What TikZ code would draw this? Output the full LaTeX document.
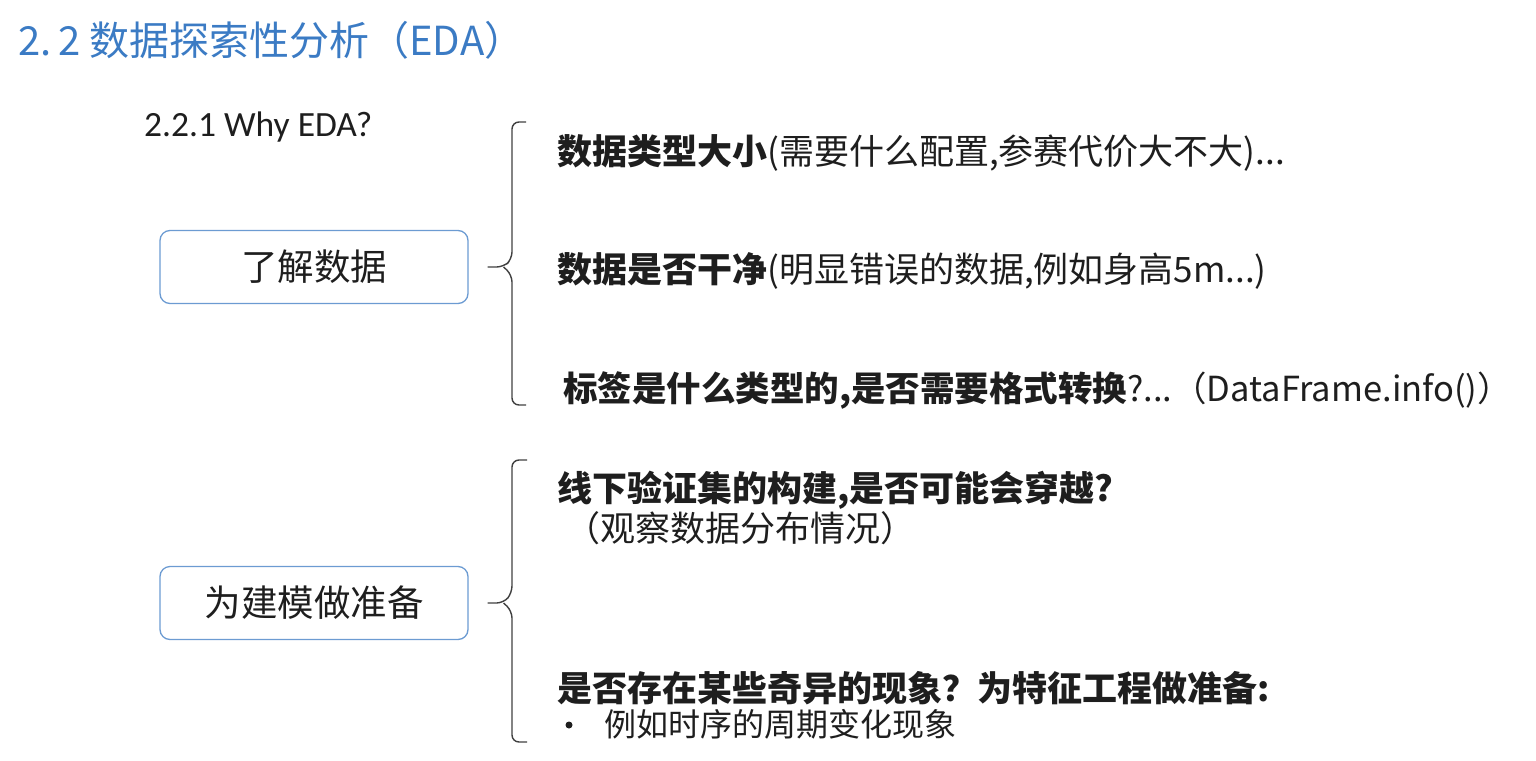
\documentclass[tikz,border=0pt]{standalone}
\usepackage{fontspec}
\setmainfont{Noto Sans CJK SC}
\newfontfamily\latin{Carlito}
\usetikzlibrary{positioning,calc}
\definecolor{cTitle}{HTML}{3B7BC4}
\definecolor{cBox}{HTML}{6C9BD2}
\definecolor{cText}{HTML}{1E1E1E}

\begin{document}
\begin{tikzpicture}[x=1pt,y=-1pt,
   txt/.style={anchor=west,inner sep=0pt,text=cText,font=\fontsize{35}{40}\selectfont},
   blk/.style={draw=cBox,line width=1.3pt,rounded corners=10pt,minimum width=308pt,minimum height=73pt,
     text=cText,font=\fontsize{36.5}{42}\selectfont},
   brace/.style={draw=cText!85,line width=1.4pt,rounded corners=7pt}]
  \useasboundingbox (0,0) rectangle (1536,760);
  \node[anchor=west,inner sep=0pt,text=cTitle,font=\fontsize{40}{46}\selectfont] (title) at (18,40) {2.\,2 数据探索性分析（EDA）};
  \node[anchor=west,inner sep=0pt,text=cText,font=\latin\fontsize{35.5}{40}\selectfont] (sub) at (144,127) {2.2.1 Why EDA?};
  % the two goals
  \node[blk] (know) at (314,267) {了解数据};
  \node[blk] (prep) at (314,603) {为建模做准备};
  % what we look at
  \node[txt] (l1) at (557,153) {\textbf{数据类型大小}(需要什么配置,参赛代价大不大)...};
  \node[txt] (l2) at (557,271) {\textbf{数据是否干净}(明显错误的数据,例如身高5m...)};
  \node[txt,font=\fontsize{34.5}{40}\selectfont] (l3) at (563,390) {\textbf{标签是什么类型的,是否需要格式转换}?...（DataFrame.info()）};
  \node[txt] (l4) at (557,490) {\textbf{线下验证集的构建,是否可能会穿越?}};
  \node[txt] (l5) at (565,528) {（观察数据分布情况）};
  \node[txt] (l6) at (557,688) {\textbf{是否存在某些奇异的现象？为特征工程做准备:}};
  \node[circle,fill=cText,inner sep=0pt,minimum size=7pt] (dot) at (569,725) {};
  \node[txt,font=\fontsize{32}{36}\selectfont] (l7) at (604,724) {例如时序的周期变化现象};
  % braces
  \coordinate (k1) at ($(know.east)+(19,0)$);
  \coordinate (p1) at ($(prep.east)+(19,0)$);
  \draw[brace] (k1) -- ++(16,0) -- (512,259) |- (526,122);
  \draw[brace] ($(k1)+(16,0)$) -- (512,275) |- (526,405);
  \draw[brace] (p1) -- ++(16,0) -- (512,593) |- (527,460);
  \draw[brace] ($(p1)+(16,0)$) -- (512,611) |- (527,742);
\end{tikzpicture}
\end{document}
